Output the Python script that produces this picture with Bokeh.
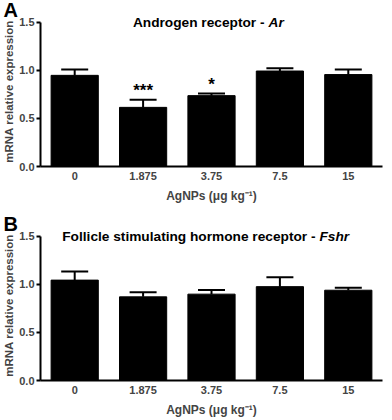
from bokeh.plotting import figure
from bokeh.layouts import column
from bokeh.models import (ColumnDataSource, FactorRange, Range1d, FixedTicker,
                          PrintfTickFormatter, Whisker, TeeHead, Label)
from bokeh.core.properties import value
from bokeh.embed import file_html
from bokeh.resources import INLINE

doses = ["0", "1.875", "3.75", "7.5", "15"]
y_ticks = [0.0, 0.5, 1.0, 1.5]

ar_mean = [0.948, 0.615, 0.737, 0.993, 0.956]
ar_upper = [1.010, 0.694, 0.758, 1.021, 1.010]
ar_stars = ["", "***", "*", "", ""]

fshr_mean = [1.044, 0.870, 0.898, 0.976, 0.939]
fshr_upper = [1.133, 0.918, 0.942, 1.075, 0.965]
fshr_stars = ["", "", "", "", ""]

FONT = "Liberation Sans"


def panel(letter, title_main, title_gene, split_x, means, uppers, stars,
          height, top_border, letter_standoff):
    src = ColumnDataSource(dict(x=doses, value=means, upper=uppers, stars=stars))
    p = figure(x_range=FactorRange(*doses, range_padding=0),
               y_range=Range1d(0, 1.56),
               width=384, height=height, output_backend="svg",
               toolbar_location=None, min_border_top=top_border,
               min_border_right=2, min_border_left=0, min_border_bottom=0)
    p.outline_line_color = None
    p.grid.visible = False
    p.background_fill_color = "white"
    p.border_fill_color = "white"

    # panel letter as the figure title, pulled left of the frame
    p.title.text = letter
    p.title.align = "left"
    p.title.text_font = FONT
    p.title.text_font_style = "bold"
    p.title.text_font_size = "20px"
    p.title.text_color = "black"
    p.title.offset = -37
    try:
        p.title.standoff = letter_standoff
    except Exception:
        p.title.standoff = 0

    p.vbar(x="x", top="value", width=0.69, source=src,
           fill_color="black", line_color="black", line_width=1)
    p.add_layout(Whisker(base="x", upper="upper", lower="value", source=src,
                         line_color="black", line_width=2,
                         upper_head=TeeHead(size=27, line_color="black", line_width=2),
                         lower_head=None))
    p.text(x="x", y="upper", text="stars", source=src,
           text_font=value(FONT), text_font_style="bold", text_font_size="17px",
           text_align="center", text_baseline="middle", y_offset=-9,
           text_color="black")

    ya = p.yaxis[0]
    ya.bounds = (0, 1.5)
    ya.ticker = FixedTicker(ticks=y_ticks)
    ya.formatter = PrintfTickFormatter(format="%.1f")
    ya.axis_label = "mRNA relative expression"
    ya.axis_label_text_font = FONT
    ya.axis_label_text_font_style = "bold"
    ya.axis_label_text_font_size = "11.5px"
    ya.axis_label_standoff = 1
    ya.major_label_text_font = FONT
    ya.major_label_text_font_style = "bold"
    ya.major_label_text_font_size = "11px"
    ya.major_label_standoff = 2
    ya.major_tick_out = 4
    ya.major_tick_in = 0
    ya.minor_tick_out = 0
    ya.minor_tick_in = 0
    ya.axis_line_width = 2
    ya.major_tick_line_width = 2

    xa = p.xaxis[0]
    xa.axis_label = "AgNPs (μg kg⁻¹)"
    xa.axis_label_text_font = FONT
    xa.axis_label_text_font_style = "bold"
    xa.axis_label_text_font_size = "12px"
    xa.axis_label_standoff = 6
    xa.major_label_text_font = FONT
    xa.major_label_text_font_style = "bold"
    xa.major_label_text_font_size = "11px"
    xa.major_label_standoff = 5
    xa.major_tick_out = 0
    xa.major_tick_in = 0
    xa.axis_line_width = 2

    # chart title inside the frame, level with the top of the axis
    title_y = y_ticks[-1]
    p.add_layout(Label(x=split_x, y=title_y, x_units="screen", y_units="data",
                       text=title_main, text_align="right", text_baseline="middle",
                       text_font=FONT, text_font_style="bold", text_font_size="13.7px",
                       text_color="black"))
    p.add_layout(Label(x=split_x + 4, y=title_y, x_units="screen", y_units="data",
                       text=title_gene, text_align="left", text_baseline="middle",
                       text_font=FONT, text_font_style="bold italic",
                       text_font_size="13.7px", text_color="black"))
    return p


pA = panel("A", "Androgen receptor -", "Ar", 224, ar_mean, ar_upper, ar_stars,
           205, 8, -8)
pB = panel("B", "Follicle stimulating hormone receptor -", "Fshr", 275,
           fshr_mean, fshr_upper, fshr_stars, 214, 25, -8)

layout = column(pA, pB)
open("out.html", "w").write(file_html(layout, INLINE))
